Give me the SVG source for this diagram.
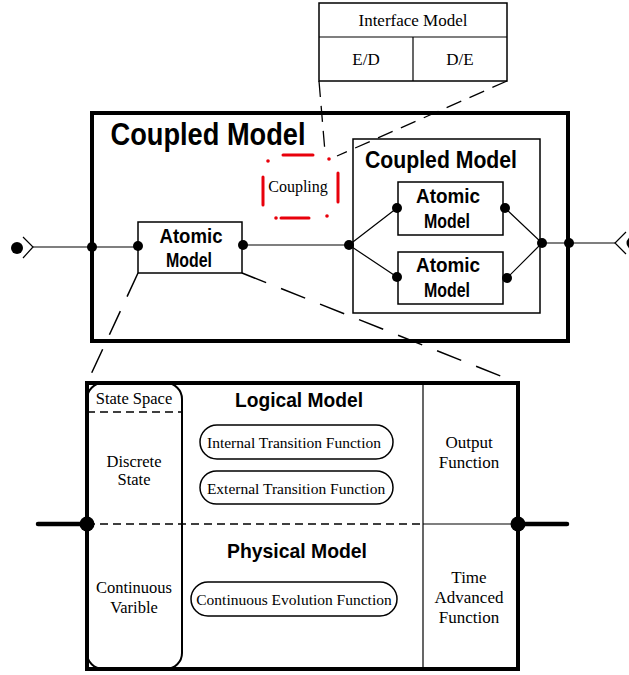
<svg xmlns="http://www.w3.org/2000/svg" width="629" height="675" viewBox="0 0 629 675">
  <style>
    .box { fill: #fff; stroke: #000; stroke-width: 1.5; }
    .thick { fill: none; stroke: #000; stroke-width: 4; }
    .wire { fill: none; stroke: #000; stroke-width: 1.2; }
    .dash { fill: none; stroke: #000; stroke-width: 1.3; stroke-dasharray: 16 9; }
    .ldash { fill: none; stroke: #000; stroke-width: 1.5; stroke-dasharray: 26 16; }
    .sdash { fill: none; stroke: #000; stroke-width: 1.3; stroke-dasharray: 8 5; }
    .red { fill: none; stroke: #e8000b; stroke-width: 3; stroke-linecap: round; }
    .dot { fill: #000; }
    .rdot { fill: #e8000b; }
    .serif { font-family: "Liberation Serif", "Times New Roman", serif; fill: #000; text-anchor: middle; }
    .sans { font-family: "Liberation Sans Narrow", "Liberation Sans", Arial, sans-serif; font-weight: bold; fill: #000; text-anchor: middle; }
  </style>

  <!-- Interface model block -->
  <g id="interface-model">
    <rect class="box" x="319" y="3" width="188" height="78"/>
    <line class="wire" x1="319" y1="37" x2="507" y2="37" stroke-width="1.5"/>
    <line class="wire" x1="413" y1="37" x2="413" y2="81" stroke-width="1.5"/>
    <text class="serif" x="413" y="26" font-size="17">Interface Model</text>
    <text class="serif" x="366" y="65" font-size="17">E/D</text>
    <text class="serif" x="460" y="65" font-size="17">D/E</text>
  </g>

  <!-- Top-level coupled model -->
  <g id="coupled-model-outer">
    <rect class="thick" x="92" y="113" width="476" height="228"/>
    <text class="sans" x="208" y="145" font-size="32" textLength="195" lengthAdjust="spacingAndGlyphs">Coupled Model</text>
  </g>

  <!-- Coupling marker -->
  <g id="coupling">
    <line class="red" x1="283" y1="155" x2="313" y2="155"/>
    <line class="red" x1="281" y1="218" x2="309" y2="218"/>
    <line class="red" x1="263" y1="177" x2="263" y2="205"/>
    <line class="red" x1="338" y1="173" x2="338" y2="202"/>
    <circle class="rdot" cx="268" cy="161" r="1.8"/>
    <circle class="rdot" cx="329" cy="159" r="1.8"/>
    <circle class="rdot" cx="276" cy="218" r="1.8"/>
    <circle class="rdot" cx="327" cy="216" r="1.8"/>
    <text class="serif" x="298" y="192" font-size="16">Coupling</text>
  </g>

  <!-- Atomic model (left) -->
  <g id="atomic-left">
    <rect class="box" x="138" y="222" width="104" height="51"/>
    <text class="sans" x="191" y="243" font-size="21" textLength="63" lengthAdjust="spacingAndGlyphs">Atomic</text>
    <text class="sans" x="189" y="267" font-size="21" textLength="46" lengthAdjust="spacingAndGlyphs">Model</text>
  </g>

  <!-- Nested coupled model -->
  <g id="coupled-model-inner">
    <rect class="box" x="353" y="139" width="187" height="174"/>
    <text class="sans" x="441" y="168" font-size="24" textLength="152" lengthAdjust="spacingAndGlyphs">Coupled Model</text>
  </g>

  <g id="atomic-inner-1">
    <rect class="box" x="398" y="182" width="105" height="53"/>
    <text class="sans" x="448" y="203" font-size="21" textLength="64" lengthAdjust="spacingAndGlyphs">Atomic</text>
    <text class="sans" x="447" y="228" font-size="21" textLength="46" lengthAdjust="spacingAndGlyphs">Model</text>
  </g>

  <g id="atomic-inner-2">
    <rect class="box" x="398" y="252" width="105" height="52"/>
    <text class="sans" x="448" y="272" font-size="21" textLength="64" lengthAdjust="spacingAndGlyphs">Atomic</text>
    <text class="sans" x="447" y="297" font-size="21" textLength="46" lengthAdjust="spacingAndGlyphs">Model</text>
  </g>

  <!-- Atomic model detail -->
  <g id="atomic-detail">
    <rect class="thick" x="87" y="383" width="431" height="286"/>
    <line class="wire" x1="423" y1="383" x2="423" y2="669" stroke-width="1.5"/>
    <line class="sdash" x1="87" y1="524" x2="423" y2="524"/>
    <line class="wire" x1="423" y1="524" x2="518" y2="524" stroke-width="1.5"/>
    <text class="sans" x="299" y="407" font-size="21" textLength="128" lengthAdjust="spacingAndGlyphs">Logical Model</text>
    <text class="sans" x="297" y="558" font-size="21" textLength="140" lengthAdjust="spacingAndGlyphs">Physical Model</text>
  </g>

  <g id="state-space">
    <rect x="87" y="383" width="95" height="286" rx="16" ry="16" fill="none" stroke="#000" stroke-width="2"/>
    <line class="sdash" x1="87" y1="412" x2="182" y2="412"/>
    <text class="serif" x="134" y="404" font-size="16.5">State Space</text>
    <text class="serif" x="134" y="467" font-size="16.5">Discrete</text>
    <text class="serif" x="134" y="485" font-size="16.5">State</text>
    <text class="serif" x="134" y="593" font-size="16.5">Continuous</text>
    <text class="serif" x="134" y="613" font-size="16.5">Varible</text>
  </g>

  <g id="internal-transition">
    <rect class="box" x="200" y="425" width="193" height="34" rx="17" ry="17"/>
    <text class="serif" x="294" y="448" font-size="15.5">Internal Transition Function</text>
  </g>
  <g id="external-transition">
    <rect class="box" x="200" y="471" width="193" height="33" rx="16.5" ry="16.5"/>
    <text class="serif" x="296" y="494" font-size="15.5">External Transition Function</text>
  </g>
  <g id="continuous-evolution">
    <rect class="box" x="191" y="582" width="206" height="34" rx="17" ry="17"/>
    <text class="serif" x="294" y="605" font-size="15.5">Continuous Evolution Function</text>
  </g>

  <g id="output-function">
    <text class="serif" x="469" y="448" font-size="17">Output</text>
    <text class="serif" x="469" y="468" font-size="17">Function</text>
  </g>
  <g id="time-advance">
    <text class="serif" x="469" y="583" font-size="17">Time</text>
    <text class="serif" x="469" y="603" font-size="17">Advanced</text>
    <text class="serif" x="469" y="623" font-size="17">Function</text>
  </g>

  <!-- Connectors -->
  <g id="connectors">
    <!-- input port -->
    <circle class="dot" cx="17" cy="248" r="6"/>
    <polyline class="wire" points="23,237 33,247 23,258" stroke-width="1.5"/>
    <line class="wire" x1="33" y1="247" x2="138" y2="247"/>
    <circle class="dot" cx="92" cy="247" r="5"/>
    <circle class="dot" cx="138" cy="246" r="5"/>
    <circle class="dot" cx="243" cy="245" r="5"/>
    <line class="wire" x1="243" y1="245" x2="349" y2="245"/>
    <circle class="dot" cx="349" cy="245" r="5"/>
    <polyline class="wire" points="397,208 349,245 397,277"/>
    <circle class="dot" cx="397" cy="208" r="5"/>
    <circle class="dot" cx="397" cy="277" r="5"/>
    <circle class="dot" cx="505" cy="208" r="5"/>
    <circle class="dot" cx="507" cy="278" r="5"/>
    <polyline class="wire" points="505,208 542,243 507,278"/>
    <circle class="dot" cx="542" cy="243" r="5"/>
    <line class="wire" x1="542" y1="243" x2="615" y2="243"/>
    <circle class="dot" cx="569" cy="243" r="5"/>
    <!-- output port -->
    <polyline class="wire" points="626,232 615,243 626,254" stroke-width="1.5"/>
    <circle class="dot" cx="633" cy="243" r="6.5"/>

    <!-- zoom guides -->
    <line class="dash" x1="319" y1="81" x2="325" y2="152"/>
    <line class="dash" x1="507" y1="81" x2="337" y2="156"/>
    <line class="ldash" x1="138" y1="273" x2="87" y2="383"/>
    <line class="ldash" x1="242" y1="273" x2="518" y2="383"/>

    <!-- atomic detail ports -->
    <line x1="38" y1="524" x2="87" y2="524" stroke="#000" stroke-width="4.5" stroke-linecap="round"/>
    <line x1="518" y1="524" x2="567" y2="524" stroke="#000" stroke-width="4.5" stroke-linecap="round"/>
    <circle class="dot" cx="87" cy="524" r="7.5"/>
    <circle class="dot" cx="518" cy="524" r="7.5"/>
  </g>
</svg>
